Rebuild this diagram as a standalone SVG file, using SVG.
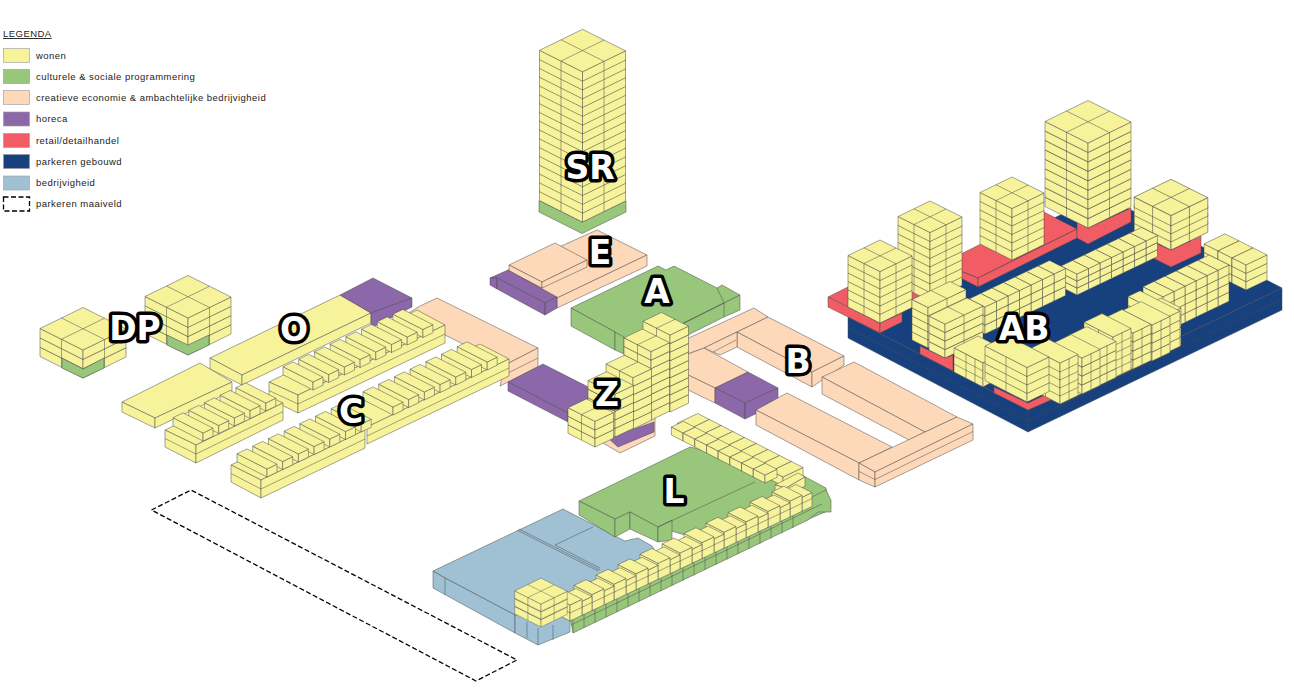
<svg xmlns="http://www.w3.org/2000/svg" width="1294" height="688" viewBox="0 0 1294 688">
<style>
path{stroke:#4a4a4a;stroke-width:.5;stroke-linejoin:round}
.y{fill:#f7f39b}.g{fill:#98c77c}.o{fill:#fed9b9}.h{fill:#8c67aa}.r{fill:#f25c64}.n{fill:#16417e}.b{fill:#a0c1d4}
.n0{fill:none}
.t{font:9.5px "Liberation Sans",Arial,sans-serif;fill:#222;letter-spacing:.46px}
.l{font:bold 33px "DejaVu Sans",sans-serif;fill:#fff;stroke:#000;stroke-width:7;stroke-linejoin:round;paint-order:stroke;text-anchor:middle}
.d{fill:none;stroke:#000;stroke-width:1.3;stroke-dasharray:5 2.500}
</style>
<defs>
<g id="f"><path d="M0 0-32-16v-9l32 16z"/><path d="M0 0 32-15.5v-9L0-9z"/><path d="M0-9-32-25 0-40.5 32-24.5z"/><path class="n0" d="M-16-8v-9M16-7.75v-9M-16-17 16-32.5M16-16.75-16-32.75"/></g>
<g id="F"><path d="M0 0-43-21.5v-9.4L0-9.4z"/><path d="M0 0 43-21v-9.4L0-9.4z"/><path d="M0-9.4-43-30.9 0-51.9 43-30.4z"/><path class="n0" d="M-21.5-10.75v-9.4M21.5-10.5v-9.4M-21.5-20.15 21.5-41.15M21.5-19.9-21.5-41.4"/></g>
<g id="k"><path d="M0 0-16-8v-9L0-9z"/><path d="M0 0 11.5-5.5v-9L0-9z"/><path d="M0-9-16-17-4.5-22.5 11.5-14.5z"/></g>
<g id="k7"><path d="M0 0-16-8v-7L0-7z"/><path d="M0 0 11.5-5.5v-7L0-7z"/><path d="M0-7-16-15-4.5-20.5 11.5-12.5z"/></g>
<g id="k2"><path d="M0 0-20-10v-9.2L0-9.2z"/><path d="M0 0 11-5.3v-9.2L0-9.2z"/><path d="M0-9.2-20-19.2-9-24.5 11-14.5z"/></g>
<g id="k3"><path d="M0 0-14-7v-8.5L0-8.5z"/><path d="M0 0 21-10v-8.5L0-8.5z"/><path d="M0-8.5-14-15.5 7-25.5 21-18.5z"/></g>
<g id="sl"><path d="M0 0-40-20.4v-9L0-9z"/><path d="M0 0 12-5.7v-9L0-9z"/><path d="M0-9-40-29.4-28-35.1 12-14.7z"/><path class="n0" d="M-13.3-6.8v-9M-26.6-13.6v-9"/></g>
<g id="sm"><path d="M0 0-29-14.8v-9L0-9z"/><path d="M0 0 18-8.600v-9L0-9z"/><path d="M0-9-29-23.8-11-32.400 18-17.600z"/><path class="n0" d="M-14.5-7.4v-9M9-4.300v-9"/></g>
<g id="a"><path d="M0 0-16-8v-8.5L0-8.5z"/><path d="M0 0 38-18v-8.5L0-8.5z"/><path d="M0-8.5-16-16.5 22-34.5 38-26.5z"/><path class="n0" d="M19-9v-8.5M19-17.5 3-25.5"/></g>
<g id="c"><path d="M0 0-42-21.5v-9L0-9z"/><path d="M0 0 22-10.5v-9L0-9z"/><path d="M0-9-42-30.5-20-41 22-19.5z"/><path class="n0" d="M-21-10.75v-9"/></g>
<g id="zf"><path d="M0 0-27-13.7v-8.6L0-8.6z"/><path d="M0 0 18.5-8.8v-8.6L0-8.6z"/><path d="M0-8.6-27-22.3-8.5-31.1 18.5-17.4z"/><path class="n0" d="M-13.5-6.9v-8.6M-13.5-15.5 5-24.3"/></g>
<g id="sa"><path d="M0 0-30-15.3v-8L0-8z"/><path d="M0 0 10-4.8v-8L0-8z"/><path d="M0-8-30-23.3-20-28.1 10-12.8z"/></g>
<g id="t5"><use href="#sa" x="62.8" y="-30"/><use href="#sa" x="47.1" y="-22.5"/><use href="#sa" x="31.4" y="-15"/><use href="#sa" x="15.7" y="-7.5"/><use href="#sa"/></g>
<g id="t7"><use href="#sa" x="94.2" y="-45"/><use href="#sa" x="78.5" y="-37.5"/><use href="#t5"/></g>
<g id="t8"><use href="#sa" x="109.9" y="-52.5"/><use href="#t7"/></g>
<g id="rk"><use href="#k" x="69" y="-33"/><use href="#k" x="57.5" y="-27.5"/><use href="#k" x="46" y="-22"/><use href="#k" x="34.5" y="-16.5"/><use href="#k" x="23" y="-11"/><use href="#k" x="11.5" y="-5.5"/><use href="#k"/></g>
<g id="rk7"><use href="#k7" x="69" y="-33"/><use href="#k7" x="57.5" y="-27.5"/><use href="#k7" x="46" y="-22"/><use href="#k7" x="34.5" y="-16.5"/><use href="#k7" x="23" y="-11"/><use href="#k7" x="11.5" y="-5.5"/><use href="#k7"/></g>
<g id="r6"><use href="#k2" x="55" y="-26.5"/><use href="#k2" x="44" y="-21.2"/><use href="#k2" x="33" y="-15.9"/><use href="#k2" x="22" y="-10.6"/><use href="#k2" x="11" y="-5.3"/><use href="#k2"/></g>
<g id="r11"><use href="#k2" x="110" y="-53"/><use href="#k2" x="99" y="-47.7"/><use href="#k2" x="88" y="-42.4"/><use href="#k2" x="77" y="-37.1"/><use href="#k2" x="66" y="-31.8"/><use href="#r6"/></g>
<g id="q3"><use href="#k3" x="-28" y="-14"/><use href="#k3" x="-14" y="-7"/><use href="#k3"/></g>
<g id="f4"><use href="#f"/><use href="#f" y="-8.5"/><use href="#f" y="-17"/><use href="#f" y="-25.5"/></g>
<g id="lc"><path d="M0 0-11.7-6v-9L0-9z"/><path d="M0 0 20-9.5v-9L0-9z"/><path d="M0-9-11.7-15 8.3-24.5 20-18.5z"/></g>
<g id="lk"><path d="M0 0-11.7-6v-8L0-8z"/><path d="M0 0 12-5.7v-8L0-8z"/><path d="M0-8-11.7-14 .3-19.7 12-13.7z"/></g>
<g id="u"><path d="M12-5.7 22-10.5v-14l-10 4.8z"/><path d="M12-19.700 22-24.500 6-32.500-4-27.700z"/><path d="M0 0-18-9.200v-16L0-16z"/><path d="M0 0 12-5.700v-16L0-16z"/><path d="M0-16-18-25.200-6-30.900 12-21.700z"/><path class="n0" d="M-18-17.200 0-8 12-13.700 22-18.500"/></g>
</defs>

<g id="legenda">
<text class="t" x="3" y="37" text-decoration="underline">LEGENDA</text>
<rect class="y" x="3.5" y="48.5" width="26" height="14" stroke="#999" stroke-width=".6"/><text class="t" x="36" y="58.5">wonen</text>
<rect class="g" x="3.5" y="69.5" width="26" height="14" stroke="#999" stroke-width=".6"/><text class="t" x="36" y="79.5">culturele &amp; sociale programmering</text>
<rect class="o" x="3.5" y="90.5" width="26" height="14" stroke="#999" stroke-width=".6"/><text class="t" x="36" y="101">creatieve economie &amp; ambachtelijke bedrijvigheid</text>
<rect class="h" x="3.5" y="112" width="26" height="14" stroke="#999" stroke-width=".6"/><text class="t" x="36" y="122">horeca</text>
<rect class="r" x="3.5" y="133.5" width="26" height="14" stroke="#999" stroke-width=".6"/><text class="t" x="36" y="143.5">retail/detailhandel</text>
<rect class="n" x="3.5" y="154.5" width="26" height="14" stroke="#999" stroke-width=".6"/><text class="t" x="36" y="164.5">parkeren gebouwd</text>
<rect class="b" x="3.5" y="176" width="26" height="14" stroke="#999" stroke-width=".6"/><text class="t" x="36" y="186">bedrijvigheid</text>
<rect class="d" x="3.5" y="197" width="26" height="14" stroke-width="1"/><text class="t" x="36" y="207">parkeren maaiveld</text>
</g>

<g id="parkeren-maaiveld"><path class="d" style="stroke:#000;stroke-width:1.3" d="M151.500 510 191 490 517 660 476 681z"/></g>

<g id="DP">
<g class="y" transform="translate(83 378)"><use href="#F"/><use href="#F" y="-9.3"/><use href="#F" y="-18.600"/></g>
<path class="g" d="M62 358 83 369 104 358V368L83 378 62 368z"/>
<g class="y" transform="translate(188 355)"><use href="#F"/><use href="#F" y="-9.200"/><use href="#F" y="-18.400"/><use href="#F" y="-27.600"/></g>
<path class="g" d="M167 335 188 345 209 335V345L188 355 167 345z"/>
</g>

<g id="O-peach" class="o">
<path d="M420 306 437 298 538 348 505 365 405 315z"/><path d="M505 365 538 348V367L500 386z"/><path class="n0" d="M505 374.500 538 358"/>
</g>

<g id="O" class="y">
<path d="M210 358 340 295 371 313 242 375z"/><path d="M210 358 242 375V385L210 369z"/><path d="M242 375 371 313V323L242 385z"/>
<g class="h"><path d="M340 295 373 278 412 298 371 313z"/><path d="M371 313 412 298V307L371 328z"/></g>
<path d="M122 402 200 363 232 382 155 418z"/><path d="M122 402 155 418V428L122 412z"/><path d="M155 418 232 382V391L155 428z"/>
</g>

<g id="C" class="y">
<path d="M269 382 298 395 445 325 417 310z"/><path d="M269 382 298 395V413L269 399z"/><path d="M298 395 445 325V343L298 413z"/><path class="n0" d="M269 390.500 298 404 445 334"/>
<use href="#t8" x="313" y="390"/>
<path d="M165 430 196 445 283 403 252 388z"/><path d="M165 430 196 445V463L165 447z"/><path d="M196 445 283 403V420L196 463z"/><path class="n0" d="M165 438.500 196 454 283 411.500"/>
<use href="#t5" x="203" y="441"/>
<path d="M337 412 367 427 509 359 480 344z"/><path d="M367 427 509 359V376L367 444z"/><path class="n0" d="M367 436 509 368"/>
<use href="#t7" x="393" y="415"/>
<path d="M231 465 261 480 365 430 335 415z"/><path d="M231 465 261 480V498L231 482z"/><path d="M261 480 365 430V448L261 498z"/><path class="n0" d="M231 473.500 261 489 365 439"/>
<use href="#t7" x="267" y="477"/>
</g>

<g id="E">
<g class="o"><path d="M597 230 647 255 557 298 508 270z"/><path d="M557 298 647 255V266L557 308z"/>
<path d="M509 265 555 243 587 260 542 282z"/><path d="M509 265 542 282V288L509 271z"/><path d="M542 282 587 260V267L542 288z"/></g>
<g class="h"><path d="M490 278 508 270 557 297 545 303 497 278z"/><path d="M490 278 497 278V289L490 285z"/><path d="M497 278 545 303V315L497 289z"/><path d="M545 303 557 297V308L545 315z"/></g>
</g>

<g id="SR">
<path class="g" d="M582 222 539 200.500V212L582 233.500 626 212V201z"/>
<g class="y" transform="translate(582.500 222)"><use href="#F"/><use href="#F" y="-8.800"/><use href="#F" y="-17.600"/><use href="#F" y="-26.400"/><use href="#F" y="-35.200"/><use href="#F" y="-44"/><use href="#F" y="-52.800"/><use href="#F" y="-61.600"/><use href="#F" y="-70.400"/><use href="#F" y="-79.200"/><use href="#F" y="-88"/><use href="#F" y="-96.800"/><use href="#F" y="-105.600"/><use href="#F" y="-114.400"/><use href="#F" y="-123.200"/><use href="#F" y="-132"/><use href="#F" y="-140.800"/></g>
</g>

<g id="horeca-slab" class="h"><path d="M508 382 543 364 600 393 568 413z"/><path d="M508 382 568 413V422L508 391z"/></g>

<g id="A" class="g">
<path d="M571 308 658 266 666 270 674 266 717 288 722 285 740 295 724 303 660 335 630 352 615 332z"/><path d="M571 308 615 332V350L571 326z"/><path d="M615 332 624 337V354L615 350z"/><path d="M724 303 740 295V310L724 317 660 349V335z"/><path class="n0" d="M717 288 724 303V317M724 303 680 325"/>
</g>

<g id="B" class="o">
<path d="M680 342 754 308 768 317 737 332 704 348 688 354z"/>
<path d="M737 332 768 317 844 356 812 372z"/><path d="M737 332 812 372V387L737 347z"/><path d="M812 372 844 356V365L812 387z"/>
<path d="M704 348 737 332V347L720 355z"/>
<path class="n0" d="M713 352 736 340"/>
<path d="M680 357 704 348 748 372 715 388 680 371z"/><path d="M680 371 715 388V403L680 386z"/>
<g class="h"><path d="M715 388 748 372 778 388 745 403z"/><path d="M715 388 745 403V419L715 403z"/><path d="M745 403 778 388V403L745 419z"/></g>
<path d="M822 377 854 362 957 417 925 432z"/><path d="M822 377 925 432 909 440 822 394z"/>
<path d="M756 410 787 393 892 447 859 463z"/><path d="M756 410 859 463V480L756 425z"/>
<path d="M859 463 957 417 973 424 875 472z"/><path d="M859 463 875 472V487L859 480z"/><path d="M875 472 973 424V440L875 487z"/><path class="n0" d="M859 471.500 875 479.500 973 431.500"/>
</g>

<g id="Z">
<path class="o" d="M603 443 620 453 655 436V410H640L600 440z"/>
<path class="h" d="M608 438 654 422V432L618 447z"/>
<g class="y">
<g transform="translate(670 412)"><use href="#zf"/><use href="#zf" y="-8.550"/><use href="#zf" y="-17.100"/><use href="#zf" y="-25.650"/><use href="#zf" y="-34.200"/><use href="#zf" y="-42.750"/><use href="#zf" y="-51.300"/><use href="#zf" y="-59.850"/><use href="#zf" y="-68.400"/></g>
<g transform="translate(651 420)"><use href="#zf"/><use href="#zf" y="-8.550"/><use href="#zf" y="-17.100"/><use href="#zf" y="-25.650"/><use href="#zf" y="-34.200"/><use href="#zf" y="-42.750"/><use href="#zf" y="-51.300"/><use href="#zf" y="-59.850"/></g>
<g transform="translate(633 429)"><use href="#zf"/><use href="#zf" y="-8.550"/><use href="#zf" y="-17.100"/><use href="#zf" y="-25.650"/><use href="#zf" y="-34.200"/><use href="#zf" y="-42.750"/></g>
<g transform="translate(615 437)"><use href="#zf"/><use href="#zf" y="-8.550"/><use href="#zf" y="-17.100"/><use href="#zf" y="-25.650"/><use href="#zf" y="-34.200"/></g>
<g transform="translate(595 447)"><use href="#zf"/><use href="#zf" y="-8.500"/><use href="#zf" y="-17"/></g>
</g>
</g>

<g id="AB">
<g class="n"><path d="M848 317 1102 195 1282 288 1028 410z"/><path d="M848 317 1028 410V432L848 338z"/><path d="M1028 410 1282 288V310L1028 432z"/><path class="n0" d="M848 327.500 1028 421 1282 299"/></g>
<g class="r">
<path d="M828 297 906 258 950 280 912 300 902 313 880 323z"/><path d="M828 297 880 323V333L828 307z"/><path d="M880 323 902 313V322L880 333z"/>
<path d="M945 265 963 253 1044 212 1077 229 978 278z"/><path d="M945 265 978 278V287L953 274z"/><path d="M978 278 1077 229V238L978 287z"/>
<path d="M1077 222 1088 228 1131 208V222L1088 244 1077 238z"/>
<path d="M1153 242 1171 250 1201 236V253L1171 267 1153 258z"/>
</g>
<g class="y">
<g transform="translate(930 301)"><use href="#f4"/><use href="#f4" y="-34"/></g>
<g transform="translate(1088 228)"><use href="#F"/><use href="#F" y="-9.450"/><use href="#F" y="-18.900"/><use href="#F" y="-28.350"/><use href="#F" y="-37.800"/><use href="#F" y="-47.250"/><use href="#F" y="-56.700"/><use href="#F" y="-66.150"/><use href="#F" y="-75.600"/></g>
<g transform="translate(1012 260)"><use href="#f4"/><use href="#f" y="-34"/><use href="#f" y="-42.500"/></g>
<g transform="translate(1171 250) scale(1.15)"><use href="#f"/><use href="#f" y="-7"/><use href="#f" y="-14"/><use href="#f" y="-21"/></g>
<g transform="translate(1077 295)"><use href="#rk7"/><use href="#rk7" y="-7"/><use href="#rk7" y="-14"/></g>
<g transform="translate(985 334)"><use href="#rk"/><use href="#rk" y="-9"/><use href="#rk" y="-18"/></g>
<g transform="translate(1246 290)"><use href="#q3"/><use href="#q3" y="-8.300"/><use href="#q3" y="-16.600"/></g>
<g transform="translate(1163 333)"><use href="#r6"/><use href="#r6" y="-9"/><use href="#r6" y="-18"/><use href="#r6" y="-27"/></g>
<g transform="translate(880 323)"><use href="#f4"/><use href="#f" y="-34"/><use href="#f" y="-42.500"/></g>
<g transform="translate(928 348)"><use href="#a"/><use href="#a" y="-8"/><use href="#a" y="-16"/><use href="#a" y="-24"/><use href="#a" y="-32"/></g>
<path class="r" d="M920 346 945 358 953 355V371L920 354z"/>
<g transform="translate(945 358)"><use href="#a"/><use href="#a" y="-8.500"/><use href="#a" y="-17"/><use href="#a" y="-25.500"/></g>
<path d="M954 348 978 336 1005 350 983 363z"/><path d="M954 348 983 363V387L954 372z"/><path class="n0" d="M954 356 983 371M954 364 983 379M966 354V378M975 359V383"/>
<path d="M983 363 1005 350V375L983 387z"/>
<g transform="translate(1060 404)"><use href="#r11"/><use href="#r11" y="-9.500"/><use href="#r11" y="-19"/><use href="#r11" y="-28.500"/></g>
<g transform="translate(1168 352)"><use href="#sl"/><use href="#sl" y="-8.700"/><use href="#sl" y="-17.400"/><use href="#sl" y="-26.100"/></g>
<g transform="translate(1152 361)"><use href="#sm"/><use href="#sm" y="-9"/><use href="#sm" y="-18"/><use href="#sm" y="-27"/></g>
<g transform="translate(1133 369)"><use href="#sm"/><use href="#sm" y="-9"/><use href="#sm" y="-18"/><use href="#sm" y="-27"/></g>
<g transform="translate(1113 378)"><use href="#sm"/><use href="#sm" y="-8"/><use href="#sm" y="-16"/><use href="#sm" y="-24"/><use href="#sm" y="-32"/></g>
<g transform="translate(1098 386)"><use href="#sm"/><use href="#sm" y="-9"/><use href="#sm" y="-18"/><use href="#sm" y="-27"/></g>
<g transform="translate(1082 394)"><use href="#sm"/><use href="#sm" y="-9"/><use href="#sm" y="-18"/><use href="#sm" y="-27"/></g>
<path class="r" d="M994 387 1028 403 1051 392V400L1028 410 994 393z"/>
<g transform="translate(1060 404)"><use href="#sm"/><use href="#sm" y="-8"/><use href="#sm" y="-16"/><use href="#sm" y="-24"/><use href="#sm" y="-32"/></g>
<g transform="translate(1027 402)"><use href="#c"/><use href="#c" y="-8.500"/><use href="#c" y="-17"/><use href="#c" y="-25.500"/></g>
</g>
</g>

<g id="L">
<g class="b">
<path d="M433 571 563 509 617 537 625 541 638 538 652 546 660 560 570 615 515 615 445 578z"/>
<path d="M433 571 445 578 515 615V633L433 588z"/><path d="M515 615H570V632L538 645 515 633z"/>
<path class="n0" d="M519 529 600 570M517 530 598 571M555 545 593 527M555 545 600 568M445 578V595M527 622V638M538 628V645M553 625V640"/>
</g>
<g class="g">
<path d="M579 501 690 447 800 474 826 488 830 510 735 550 658 527 630 512 615 519z"/>
<path d="M579 501 615 519V537L579 515z"/><path d="M615 519 630 512V529L615 537z"/><path d="M630 512 658 527V542L630 529z"/><path d="M658 527 672 520V540L658 542z"/>
<path class="n0" d="M658 527 755 482"/>
</g>
<g class="y">
<use href="#lc" x="689.400" y="438"/><use href="#lc" x="701.100" y="444"/><use href="#lc" x="712.800" y="450"/><use href="#lc" x="724.500" y="456"/><use href="#lc" x="736.200" y="462"/><use href="#lc" x="747.900" y="468"/><use href="#lc" x="759.600" y="474"/><use href="#lc" x="771.300" y="480"/><use href="#lc" x="783" y="486"/>
<use href="#lk" x="683.100" y="441"/><use href="#lk" x="694.800" y="447"/><use href="#lk" x="706.500" y="453"/><use href="#lk" x="718.200" y="459"/><use href="#lk" x="729.900" y="465"/><use href="#lk" x="741.600" y="471"/><use href="#lk" x="753.300" y="477"/><use href="#lk" x="765" y="483"/>
<path d="M775 485 798 473 805 477 786 488z"/><path d="M775 485 786 488V497L775 494z"/><path d="M786 488 805 477V486L786 497z"/>
</g>
<g class="g">
<path d="M570 617 826 490 831 500V512L818 512 808 520 573 633z"/>
<path class="n0" d="M573 633V617m11 10.750v-16m11 10.750v-16m11 10.750v-16m11 10.750v-16m11 10.750v-16m11 10.750v-16m11 10.750v-16m11 10.750v-16m11 10.750v-16m11 10.750v-16m11 10.750v-16m11 10.750v-16m11 10.750v-16m11 10.750v-16m11 10.750v-16m11 10.750v-16m11 10.750v-16m11 10.750v-16m11 10.750v-16m11 10.750v-16M571 625 822 504"/>
</g>
<g class="y">
<use href="#u" x="790" y="517"/><use href="#u" x="768" y="527.400"/><use href="#u" x="746" y="537.800"/><use href="#u" x="724" y="548.200"/><use href="#u" x="702" y="558.600"/><use href="#u" x="680" y="569"/><use href="#u" x="658" y="579.400"/><use href="#u" x="636" y="589.800"/><use href="#u" x="614" y="600.200"/><use href="#u" x="592" y="610.600"/><use href="#u" x="570" y="621"/>
<g transform="translate(541 627) scale(.82)"><use href="#f"/><use href="#f" y="-9.500"/><use href="#f" y="-19"/></g>
</g>
</g>

<g id="labels">
<text class="l" x="590" y="179">SR</text>
<text class="l" x="600" y="264">E</text>
<text class="l" x="657" y="303">A</text>
<text class="l" x="135" y="340">DP</text>
<text class="l" x="294" y="341">O</text>
<text class="l" x="798" y="373">B</text>
<text class="l" x="607" y="406">Z</text>
<text class="l" x="351" y="423">C</text>
<text class="l" x="674" y="503">L</text>
<text class="l" x="1024" y="340">AB</text>
</g>
</svg>
